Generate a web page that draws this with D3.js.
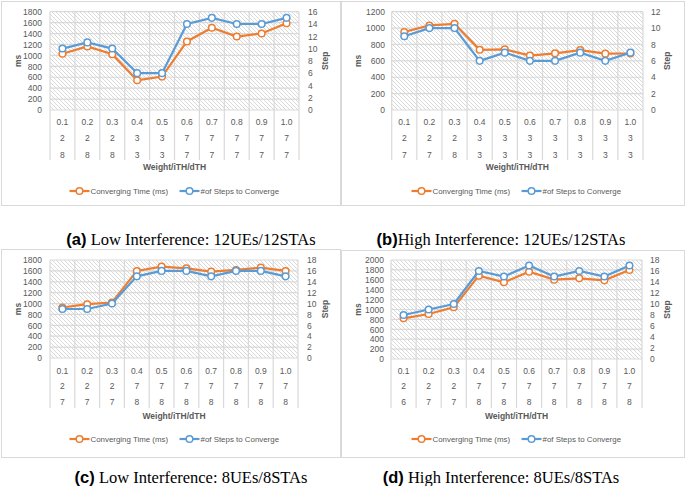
<!DOCTYPE html>
<html><head><meta charset="utf-8">
<script src="https://cdn.jsdelivr.net/npm/d3@7"></script>
<style>
body{margin:0;background:#fff;}
svg{display:block;}
</style></head>
<body>
<svg id="chart" width="685" height="486"></svg>
<script>
// ---------- data ----------
const weights = ["0.1","0.2","0.3","0.4","0.5","0.6","0.7","0.8","0.9","1.0"];

const iTH_a = ["2","2","2","3","3","7","7","7","7","7"];
const dTH_a = ["8","8","8","3","3","7","7","7","7","7"];
const ms_a = [1030,1165,1020,545,612,1255,1505,1345,1400,1590];
const steps_a = [10,11,10,6,6,14,15,14,14,15];

const iTH_b = ["2","2","2","3","3","3","3","3","3","3"];
const dTH_b = ["7","7","8","3","3","3","3","3","3","3"];
const ms_b = [952,1032,1052,735,740,664,692,732,688,690];
const steps_b = [9,10,10,6,7,6,6,7,6,7];

const iTH_c = ["2","2","2","7","7","7","7","7","7","7"];
const dTH_c = ["7","7","7","8","8","8","8","8","8","8"];
const ms_c = [927,988,1019,1599,1678,1647,1586,1617,1660,1599];
const steps_c = [9,9,10,15,16,16,15,16,16,15];

const iTH_d = ["2","2","2","7","7","7","7","7","7","7"];
const dTH_d = ["6","7","7","8","8","8","8","8","8","8"];
const ms_d = [822,909,1044,1684,1549,1764,1603,1630,1589,1798];
const steps_d = [8,9,10,16,15,17,15,16,15,17];

const msTicks_a = [0,200,400,600,800,1000,1200,1400,1600,1800];
const stepTicks_a = [0,2,4,6,8,10,12,14,16];
const msTicks_b = [0,200,400,600,800,1000,1200];
const stepTicks_b = [0,2,4,6,8,10,12];
const msTicks_c = [0,200,400,600,800,1000,1200,1400,1600,1800];
const stepTicks_c = [0,2,4,6,8,10,12,14,16,18];
const msTicks_d = [0,200,400,600,800,1000,1200,1400,1600,1800,2000];
const stepTicks_d = [0,2,4,6,8,10,12,14,16,18];

const seriesNames = ["Converging Time (ms)", "#of Steps to Converge"];
const xTitle = "Weight/iTH/dTH";
const yTitleLeft = "ms";
const yTitleRight = "Step";
const captions = [
  {tag:"(a)", text:" Low Interference: 12UEs/12STAs"},
  {tag:"(b)", text:"High Interference: 12UEs/12STAs"},
  {tag:"(c)", text:" Low Interference: 8UEs/8STAs"},
  {tag:"(d)", text:" High Interference: 8UEs/8STAs"}
];

// ---------- layout ----------
const ORANGE = "#ED7D31", BLUE = "#5B9BD5";
const TICKC = "#595959", GRID = "#d9d9d9";
const FONT = "'Liberation Sans', Arial, sans-serif";

const panels = [
  {box:[1,1,339,204], L:50, R:299, T:11.7, B:110, rows:[122,138,155], tableB:160, xt:167, leg:191, yl:18, yr:325, rl:308, ll:42,
   iTH:iTH_a, dTH:dTH_a, ms:ms_a, st:steps_a, msT:msTicks_a, stT:stepTicks_a, cap:captions[0], capY:239},
  {box:[341,1,343,204], L:391.7, R:643, T:11.7, B:110, rows:[122,138,155], tableB:160, xt:167, leg:191, yl:358, yr:667, rl:651, ll:385,
   iTH:iTH_b, dTH:dTH_b, ms:ms_b, st:steps_b, msT:msTicks_b, stT:stepTicks_b, cap:captions[1], capY:239},
  {box:[1,249,339,208], L:50, R:298, T:260, B:358, rows:[371,386,402], tableB:408, xt:416, leg:439, yl:18, yr:325, rl:307, ll:42,
   iTH:iTH_c, dTH:dTH_c, ms:ms_c, st:steps_c, msT:msTicks_c, stT:stepTicks_c, cap:captions[2], capY:477},
  {box:[341,250,343,207], L:391, R:642, T:260, B:359, rows:[371,386,402], tableB:408, xt:416, leg:439, yl:358, yr:667, rl:650, ll:384,
   iTH:iTH_d, dTH:dTH_d, ms:ms_d, st:steps_d, msT:msTicks_d, stT:stepTicks_d, cap:captions[3], capY:477}
];

const svg = d3.select("#chart");
const defs = svg.append("defs");
const pat = defs.append("pattern").attr("id","hatch").attr("patternUnits","userSpaceOnUse")
  .attr("width",4).attr("height",4);
pat.append("rect").attr("width",4).attr("height",4).attr("fill","#fff");
pat.append("path").attr("d","M-1,-1 L5,5 M-1,3 L1,5 M3,-1 L5,1")
  .attr("stroke","#c8c8c8").attr("stroke-width",0.7);

panels.forEach(p => {
  const g = svg.append("g");
  // panel border
  g.append("rect").attr("x",p.box[0]+0.5).attr("y",p.box[1]+0.5).attr("width",p.box[2]).attr("height",p.box[3])
    .attr("fill","#fff").attr("stroke","#d9d9d9").attr("stroke-width",1);

  const x = d3.scaleBand().domain(weights).range([p.L,p.R]).padding(0);
  const yL = d3.scaleLinear().domain([0,d3.max(p.msT)]).range([p.B,p.T]);
  const yR = d3.scaleLinear().domain([0,d3.max(p.stT)]).range([p.B,p.T]);

  // hatched background
  g.append("rect").attr("x",p.L).attr("y",p.T).attr("width",p.R-p.L).attr("height",p.B-p.T).attr("fill","url(#hatch)");

  // horizontal gridlines
  g.append("g").selectAll("line").data(p.msT).join("line")
    .attr("x1",p.L).attr("x2",p.R).attr("y1",d=>yL(d)).attr("y2",d=>yL(d))
    .attr("stroke",GRID).attr("stroke-width",1.2);
  // vertical gridlines / table lines
  const bounds = weights.map(w=>x(w)).concat([p.R]);
  g.append("g").selectAll("line").data(bounds).join("line")
    .attr("x1",d=>d).attr("x2",d=>d).attr("y1",p.T).attr("y2",p.tableB)
    .attr("stroke",GRID).attr("stroke-width",1.2);

  // left axis
  const axL = d3.axisLeft(yL).tickValues(p.msT).tickFormat(d3.format("d")).tickSize(0).tickPadding(0);
  const gL = g.append("g").attr("transform",`translate(${p.ll},0)`).call(axL);
  gL.select(".domain").remove();
  gL.selectAll("text").attr("fill",TICKC).attr("font-family",FONT).attr("font-size",8.5);
  // right axis
  const axR = d3.axisRight(yR).tickValues(p.stT).tickFormat(d3.format("d")).tickSize(0).tickPadding(0);
  const gR = g.append("g").attr("transform",`translate(${p.rl},0)`).call(axR);
  gR.select(".domain").remove();
  gR.selectAll("text").attr("fill",TICKC).attr("font-family",FONT).attr("font-size",8.5);

  // category table labels
  [weights, p.iTH, p.dTH].forEach((row,ri)=>{
    g.append("g").selectAll("text").data(row).join("text")
      .attr("x",(d,i)=>x(weights[i])+x.bandwidth()/2).attr("y",p.rows[ri])
      .attr("dy","0.35em").attr("text-anchor","middle")
      .attr("fill",TICKC).attr("font-family",FONT).attr("font-size",8.5).text(d=>d);
  });

  // axis titles
  g.append("text").attr("x",(p.L+p.R)/2).attr("y",p.xt).attr("dy","0.35em").attr("text-anchor","middle")
    .attr("font-family",FONT).attr("font-size",8.5).attr("font-weight","bold").attr("fill",TICKC).text(xTitle);
  g.append("text").attr("transform",`translate(${p.yl},${(p.T+p.B)/2}) rotate(-90)`).attr("dy","0.35em")
    .attr("text-anchor","middle").attr("font-family",FONT).attr("font-size",8.5).attr("font-weight","bold").attr("fill",TICKC).text(yTitleLeft);
  g.append("text").attr("transform",`translate(${p.yr},${(p.T+p.B)/2}) rotate(-90)`).attr("dy","0.35em")
    .attr("text-anchor","middle").attr("font-family",FONT).attr("font-size",8.5).attr("font-weight","bold").attr("fill",TICKC).text(yTitleRight);

  // series
  const cx = (d,i)=>x(weights[i])+x.bandwidth()/2;
  const series = [{v:p.ms,y:yL,c:ORANGE},{v:p.st,y:yR,c:BLUE}];
  series.forEach(s=>{
    const line = d3.line().x(cx).y(d=>s.y(d));
    g.append("path").datum(s.v).attr("d",line).attr("fill","none").attr("stroke",s.c).attr("stroke-width",2.2);
    g.append("g").selectAll("circle").data(s.v).join("circle")
      .attr("cx",cx).attr("cy",d=>s.y(d)).attr("r",3.3)
      .attr("fill","#fff").attr("stroke",s.c).attr("stroke-width",1.5);
  });

  // legend
  const cxp = p.box[0] + p.box[2]/2 + 1;
  const lg = g.append("g").attr("transform",`translate(${cxp},${p.leg})`);
  const items = [{n:seriesNames[0],c:ORANGE,x:-102},{n:seriesNames[1],c:BLUE,x:8}];
  items.forEach(it=>{
    lg.append("line").attr("x1",it.x).attr("x2",it.x+20).attr("y1",0).attr("y2",0).attr("stroke",it.c).attr("stroke-width",2.2);
    lg.append("circle").attr("cx",it.x+10).attr("cy",0).attr("r",3.3).attr("fill","#fff").attr("stroke",it.c).attr("stroke-width",1.5);
    lg.append("text").attr("x",it.x+21).attr("y",0).attr("dy","0.35em").attr("font-family",FONT).attr("font-size",7.9)
      .attr("fill",TICKC).text(it.n);
  });

  // caption
  const capX = p.box[0] + (p.box[0] < 100 ? 190 : 160);
  const t = svg.append("text").attr("x",capX).attr("y",p.capY).attr("dy","0.35em").attr("text-anchor","middle")
    .attr("font-size",16.5).attr("fill","#000");
  t.append("tspan").attr("font-family",FONT).attr("font-weight","bold").text(p.cap.tag);
  t.append("tspan").attr("font-family","'Liberation Serif','Times New Roman',serif").text(p.cap.text);
});
</script>
</body></html>
